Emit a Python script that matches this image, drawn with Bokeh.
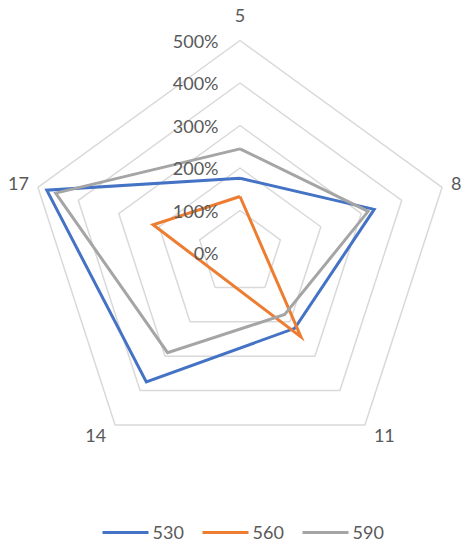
import numpy as np
from bokeh.plotting import figure
from bokeh.models import Range1d
from bokeh.embed import file_html
from bokeh.resources import INLINE
from bokeh.core.properties import value

# ---- data ----
categories = ["5", "8", "11", "14", "17"]
series_names = ["530", "560", "590"]
s530 = [176, 332, 219, 375, 478]
s560 = [133, None, 244, None, 215]
s590 = [245, 317, 179, 290, 456]
tick_values = [0, 100, 200, 300, 400, 500]
tick_labels = ["0%", "100%", "200%", "300%", "400%", "500%"]
colors = ["#4472C4", "#ED7D31", "#A5A5A5"]

# ---- layout ----
W, H = 473, 550
CX, CY = 239.5, 297.5
RMAX = 212.5
VMAX = 500.0
FONT = "Lato"
TXT = "#595959"

p = figure(width=W, height=H, output_backend="svg", toolbar_location=None,
           x_range=Range1d(0, W), y_range=Range1d(0, H), min_border=0)
p.xaxis.visible = False
p.yaxis.visible = False
p.xgrid.visible = False
p.ygrid.visible = False
p.outline_line_color = None
p.background_fill_color = "white"

n = len(categories)
theta = np.pi / 2 - np.arange(n) * 2 * np.pi / n


def pt(i, v):
    r = v / VMAX * RMAX
    return CX + r * np.cos(theta[i]), CY + r * np.sin(theta[i])


# grid pentagons
for tv in tick_values[1:]:
    xs = [pt(i, tv)[0] for i in range(n)]
    ys = [pt(i, tv)[1] for i in range(n)]
    p.patch(xs, ys, fill_color=None, line_color="#D9D9D9", line_width=1.5)

# series
for name, vals, col in zip(series_names, [s530, s560, s590], colors):
    idx = [i for i, v in enumerate(vals) if v is not None]
    xs = [pt(i, vals[i])[0] for i in idx] + [pt(idx[0], vals[idx[0]])[0]]
    ys = [pt(i, vals[i])[1] for i in idx] + [pt(idx[0], vals[idx[0]])[1]]
    p.line(xs, ys, line_color=col, line_width=3, line_join="miter")

# radial tick labels
p.text(x=[CX - 21.5] * len(tick_values),
       y=[CY + tv / VMAX * RMAX for tv in tick_values],
       text=tick_labels, text_align="right", text_baseline="middle",
       text_font=value(FONT), text_font_size="18px", text_color=TXT)

# category labels, placed just outside each outer vertex
for i, cat in enumerate(categories):
    vx, vy = pt(i, VMAX)
    c, s = np.cos(theta[i]), np.sin(theta[i])
    if abs(c) < 0.1:
        lx, align = vx, "center"
    elif c > 0:
        lx, align = vx + 9, "left"
    else:
        lx, align = vx - 9, "right"
    if s > 0.99:
        ly_ = vy + 25
    elif s > 0:
        ly_ = vy + 4
    else:
        ly_ = vy - 11
    p.text(x=[lx], y=[ly_], text=[cat], text_align=align, text_baseline="middle",
           text_font=value(FONT), text_font_size="18px", text_color=TXT)

# legend
ly = 18
lx0 = 102
for k, (name, col) in enumerate(zip(series_names, colors)):
    x0 = lx0 + k * 100
    p.segment(x0=[x0], y0=[ly], x1=[x0 + 46], y1=[ly], line_color=col, line_width=3)
    p.text(x=[x0 + 50], y=[ly], text=[name], text_align="left", text_baseline="middle",
           text_font=value(FONT), text_font_size="18px", text_color=TXT)

open("out.html", "w").write(file_html(p, INLINE))
